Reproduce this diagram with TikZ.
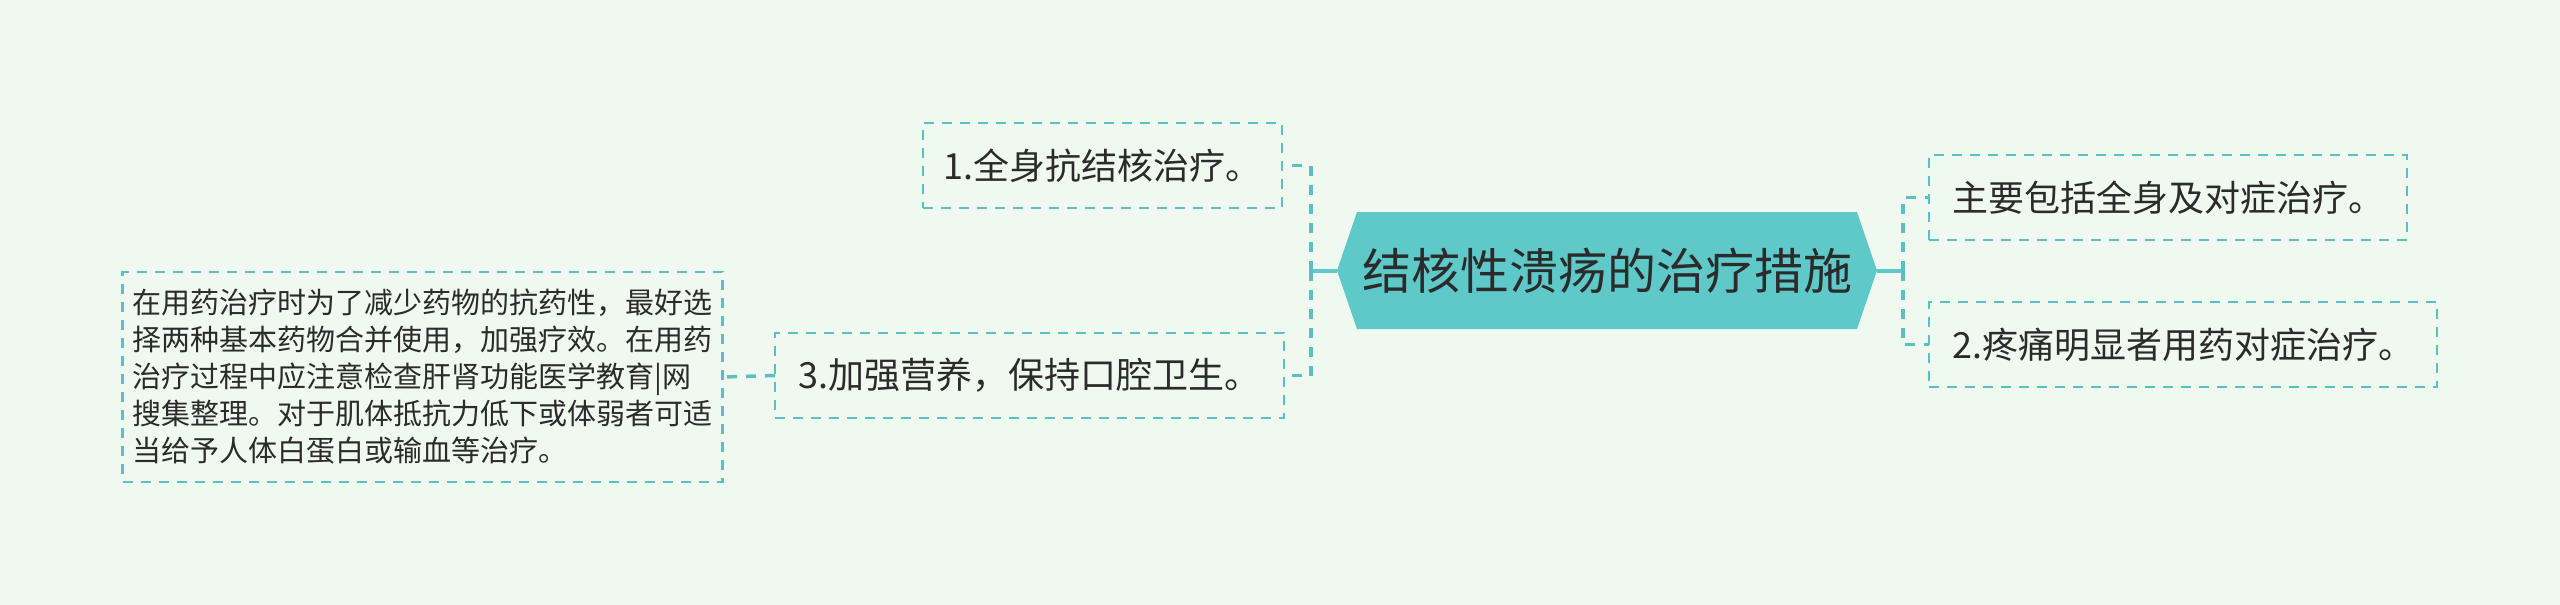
\documentclass[tikz,border=0pt]{standalone}
\usepackage{fontspec}
\setmainfont{Noto Sans CJK SC}
\usetikzlibrary{backgrounds}
\definecolor{bgc}{HTML}{F0F9EF}
\definecolor{tealfill}{HTML}{5FC9CA}
\definecolor{dashc}{HTML}{5CBFC4}
\definecolor{txt}{HTML}{2B2B2B}
\begin{document}
\begin{tikzpicture}[x=1pt,y=-1pt,
  every node/.style={inner sep=0pt,outer sep=0pt,text=txt},
  leaf/.style={draw=dashc,line width=2.5pt,dash pattern=on 10pt off 8pt,font=\fontsize{36}{44}\selectfont,minimum height=85pt},
  note/.style={draw=dashc,line width=2.5pt,dash pattern=on 10pt off 8pt,font=\fontsize{29}{37}\selectfont,align=left,minimum width=600pt,minimum height=210pt},
  root/.style={font=\fontsize{49}{60}\selectfont,minimum width=540pt,minimum height=117pt},
  trunk/.style={draw=tealfill,line width=4pt},
  twig/.style={draw=dashc,line width=3.5pt,dash pattern=on 10pt off 9pt}]
\begin{scope}[on background layer]
\fill[bgc] (0,0) rectangle (2560,605);
\end{scope}
\useasboundingbox (0,0) rectangle (2560,605);

\node[root] (c) at (1607,270.5) {结核性溃疡的治疗措施};
\begin{scope}[on background layer]
\fill[tealfill] (c.west) -- ([xshift=20pt]c.north west) -- ([xshift=-20pt]c.north east) -- (c.east) -- ([xshift=-20pt]c.south east) -- ([xshift=20pt]c.south west) -- cycle;
\end{scope}

\node[leaf,minimum width=359pt] (l1) at (1102.5,165.5) {1.全身抗结核治疗。};
\node[leaf,minimum width=509pt] (l3) at (1029.5,375.5) {3.加强营养，保持口腔卫生。};
\node[note] (n) at (422.7,377) {在用药治疗时为了减少药物的抗药性，最好选\\择两种基本药物合并使用，加强疗效。在用药\\治疗过程中应注意检查肝肾功能医学教育|网\\搜集整理。对于肌体抵抗力低下或体弱者可适\\当给予人体白蛋白或输血等治疗。};
\node[leaf,minimum width=478pt] (r1) at (2168,197.5) {主要包括全身及对症治疗。};
\node[leaf,minimum width=508pt] (r2) at (2183,344.5) {2.疼痛明显者用药对症治疗。};

\coordinate (jl) at (1311,270.5);
\coordinate (jr) at (1903,270.5);
\draw[trunk] (c.west) -- (jl);
\draw[trunk] (c.east) -- (jr);
\draw[twig] (jl) |- (l1.east);
\draw[twig] (jl) |- (l3.east);
\draw[twig] (jr) |- (r1.west);
\draw[twig] (jr) |- (r2.west);
\draw[twig] (l3.west) -- (n.east);
\end{tikzpicture}
\end{document}
